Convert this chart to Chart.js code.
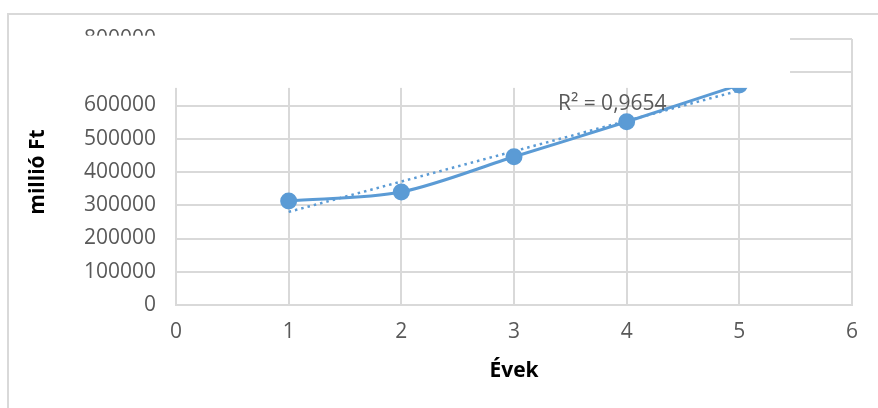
<!DOCTYPE html>
<html>
<head>
<meta charset="utf-8">
<script src="https://cdn.jsdelivr.net/npm/chart.js@4"></script>
<style>
  html, body { margin: 0; padding: 0; background: #fff; }
  #wrap { position: relative; width: 878px; height: 408px; overflow: hidden; }
  #frame { position: absolute; left: 7px; top: 13px; width: 900px; height: 420px;
           border-top: 2px solid #d9d9d9; border-left: 2px solid #d9d9d9; }
  canvas { position: absolute; left: 0; top: 0; }
</style>
</head>
<body>
<div id="wrap">
  <div id="frame"></div>
  <canvas id="chart" width="878" height="408"></canvas>
</div>
<script>
const years = [1, 2, 3, 4, 5];
const values = [313000, 340000, 446000, 551000, 662000];
// dotted linear trend, end points
const trendYears = [1, 5];
const trendValues = [280000, 645000];
const rSquared = "R² = 0,9654";
const yTicks = [0, 100000, 200000, 300000, 400000, 500000, 600000, 700000, 800000];
const xTicks = [0, 1, 2, 3, 4, 5, 6];

const blue = '#5B9BD5';
const gridColor = '#d9d9d9';
const tickColor = '#595959';
const font = "'Open Sans', 'Liberation Sans', sans-serif";

// label of the trend line and the white block that hides the top of the plot
const labelPlugin = {
  id: 'labels',
  afterDraw(chart) {
    const ctx = chart.ctx;
    const x = chart.scales.x, y = chart.scales.y;
    ctx.save();
    ctx.fillStyle = '#fff';
    const top = y.getPixelForValue(810000);
    const bottom = y.getPixelForValue(653000);
    ctx.fillRect(10, top, x.getPixelForValue(5.45) - 10, bottom - top);
    ctx.fillStyle = tickColor;
    ctx.font = '21px ' + font;
    ctx.textBaseline = 'middle';
    ctx.fillText(rSquared, x.getPixelForValue(3.39), y.getPixelForValue(604000));
    ctx.restore();
  }
};

new Chart(document.getElementById('chart'), {
  type: 'scatter',
  data: {
    datasets: [
      {
        label: 'millió Ft',
        data: years.map((v, i) => ({ x: v, y: values[i] })),
        showLine: true,
        tension: 0.3,
        borderColor: blue,
        backgroundColor: blue,
        borderWidth: 3,
        pointRadius: 7,
        pointHoverRadius: 7
      },
      {
        label: 'trend',
        data: trendYears.map((v, i) => ({ x: v, y: trendValues[i] })),
        showLine: true,
        borderColor: blue,
        borderWidth: 2.5,
        borderDash: [2.5, 4],
        pointRadius: 0
      }
    ]
  },
  options: {
    responsive: false,
    animation: false,
    clip: false,
    layout: { padding: { top: 39, right: 26, bottom: 24, left: 0 } },
    plugins: { legend: { display: false }, tooltip: { enabled: false } },
    scales: {
      x: {
        type: 'linear',
        min: 0,
        max: 6,
        afterBuildTicks: s => { s.ticks = xTicks.map(v => ({ value: v })); },
        afterFit: s => { s.height = 79; },
        grid: { color: gridColor, lineWidth: 2, drawTicks: false },
        border: { color: gridColor, width: 2 },
        ticks: { color: tickColor, font: { family: font, size: 21 }, padding: 14,
                 callback: v => String(v) },
        title: {
          display: true,
          text: 'Évek',
          color: '#000',
          font: { family: font, size: 21, weight: 'bold' },
          padding: { top: 8, bottom: 0 }
        }
      },
      y: {
        min: 0,
        max: 800000,
        afterBuildTicks: s => { s.ticks = yTicks.map(v => ({ value: v })); },
        afterFit: s => { s.width = 176; },
        grid: { color: gridColor, lineWidth: 2, drawTicks: false },
        border: { color: gridColor, width: 2 },
        ticks: { color: tickColor, font: { family: font, size: 21 }, padding: 20,
                 callback: v => String(v) },
        title: {
          display: true,
          text: 'millió Ft',
          color: '#000',
          font: { family: font, size: 21, weight: 'bold' },
          padding: { top: 25, bottom: 0 }
        }
      }
    }
  },
  plugins: [labelPlugin]
});
</script>
</body>
</html>
